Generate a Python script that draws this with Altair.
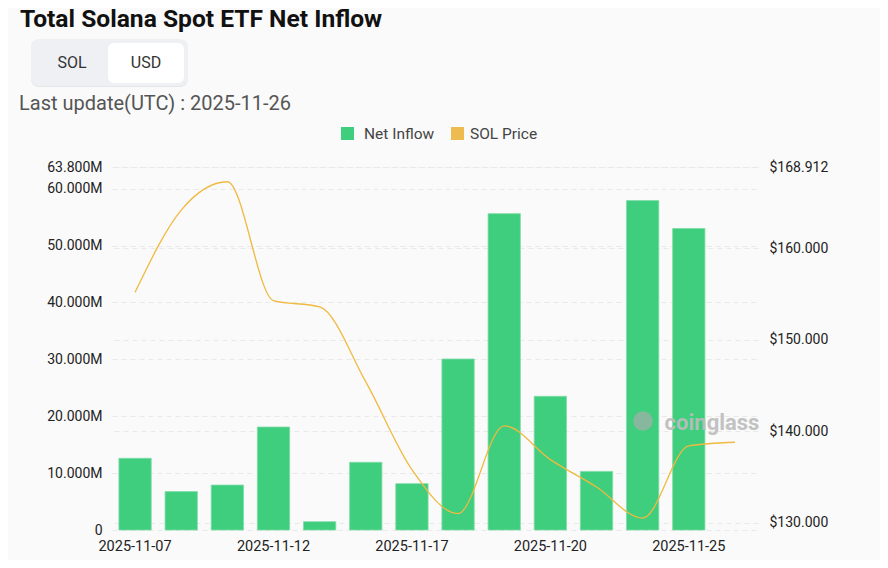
import altair as alt
import pandas as pd

dates = ["2025-11-07", "2025-11-10", "2025-11-11", "2025-11-12", "2025-11-13",
         "2025-11-14", "2025-11-17", "2025-11-18", "2025-11-19", "2025-11-20",
         "2025-11-21", "2025-11-24", "2025-11-25", "2025-11-26"]
net_inflow_m = [12.6, 6.75, 7.9, 18.1, 1.46, 11.9, 8.15, 30.05, 55.6, 23.5,
                10.3, 57.9, 53.0, None]
sol_price = [155.2, 164.2, 167.3, 154.3, 153.6, 145.4, 135.8, 131.0, 140.6,
             136.9, 133.9, 130.5, 138.4, 138.8]
x_label_dates = ["2025-11-07", "2025-11-12", "2025-11-17", "2025-11-20", "2025-11-25"]
left_ticks = [0, 10, 20, 30, 40, 50, 60, 63.8]
right_ticks = [130, 140, 150, 160, 168.912]

df = pd.DataFrame({"date": dates, "inflow": net_inflow_m, "price": sol_price})

FONT = "Roboto"
GREEN = "#3ECE7E"
GOLD = "#F0B940"
GRID = "#e9e9e9"

W, H = 646, 363

xscale = alt.Scale(domain=dates, paddingInner=0.3, paddingOuter=0.15)
xaxis = alt.Axis(values=x_label_dates, title=None, labelAngle=0, domain=False,
                 ticks=False, labelPadding=9, labelFontSize=14.5, labelColor="#222",
                 labelFont=FONT, grid=False)

bars = alt.Chart(df).transform_filter("isValid(datum.inflow)").mark_bar(
    color=GREEN, stroke="#7fdca7", strokeWidth=0.8
).encode(
    x=alt.X("date:O", scale=xscale, axis=xaxis, sort=dates),
    y=alt.Y("inflow:Q", scale=alt.Scale(domain=[0, 63.8], nice=False, zero=True),
            axis=alt.Axis(values=left_ticks, title=None, orient="left",
                          labelExpr="datum.value == 0 ? '0' : format(datum.value, '.3f') + 'M'",
                          domain=False, ticks=False, labelPadding=10, labelFontSize=14,
                          labelColor="#222", labelFont=FONT, grid=True, gridColor=GRID,
                          gridDash=[5, 4], gridWidth=1)),
)

line = alt.Chart(df).mark_line(color=GOLD, strokeWidth=1.3, interpolate="monotone").encode(
    x=alt.X("date:O", scale=xscale, sort=dates, axis=xaxis),
    y=alt.Y("price:Q", scale=alt.Scale(domain=[129.2, 168.912], nice=False, zero=False),
            axis=alt.Axis(values=right_ticks, title=None, orient="right",
                          labelExpr="'$' + format(datum.value, '.3f')",
                          domain=False, ticks=False, labelPadding=11, labelFontSize=14,
                          labelColor="#222", labelFont=FONT, grid=True, gridColor=GRID,
                          gridDash=[5, 4], gridWidth=1)),
)


def txt(s, x, y, size, color, weight="normal", align="left", baseline="middle", font=FONT, opacity=1.0):
    return alt.Chart(pd.DataFrame({"t": [s]})).mark_text(
        align=align, baseline=baseline, fontSize=size, fontWeight=weight,
        color=color, font=font, opacity=opacity
    ).encode(x=alt.value(x), y=alt.value(y), text="t:N")


def box(x1, x2, y1, y2, fill, radius=0, stroke=None, opacity=1.0):
    kw = dict(fill=fill, cornerRadius=radius, opacity=opacity)
    if stroke:
        kw["stroke"] = stroke
        kw["strokeWidth"] = 1
    return alt.Chart(pd.DataFrame({"a": [0]})).mark_rect(**kw).encode(
        x=alt.value(x1), x2=alt.value(x2), y=alt.value(y1), y2=alt.value(y2))


title = txt("Total Solana Spot ETF Net Inflow", -92, -140, 24.6, "#111", weight="bold",
            baseline="alphabetic")
btn_shadow = box(-81, 76, -127, -80, "#e4e6ea", radius=8)
btn_group = box(-81, 76, -128, -81, "#eef0f3", radius=8)
btn_usd = box(-4, 72, -124, -84, "#ffffff", radius=6)
sol_txt = txt("SOL", -40, -104, 16, "#333", align="center")
usd_txt = txt("USD", 34, -104, 16, "#333", align="center")
update_txt = txt("Last update(UTC) : 2025-11-26", -93, -63, 20, "#555")

leg1 = box(229, 242, -40, -27, GREEN)
leg1t = txt("Net Inflow", 252, -33.5, 15.5, "#444")
leg2 = box(339, 352, -40, -27, "#EDBB4F")
leg2t = txt("SOL Price", 358, -33.5, 15.5, "#444")

wm_logo = alt.Chart(pd.DataFrame({"a": [0]})).mark_point(
    shape="circle", filled=True, color="#8fb5a0", opacity=0.9, size=380
).encode(x=alt.value(531), y=alt.value(254))
wm_txt = txt("coinglass", 600, 256, 22, "#bdbdbd", weight="bold", align="center", opacity=0.9)

chart = alt.layer(
    bars, line
).resolve_scale(y="independent")

chart = alt.layer(
    chart, wm_logo, wm_txt, title, btn_shadow, btn_group, btn_usd, sol_txt, usd_txt,
    update_txt, leg1, leg1t, leg2, leg2t
).properties(
    width=W, height=H,
    autosize=alt.AutoSizeParams(type="none"),
    padding={"left": 104, "top": 159, "right": 122, "bottom": 30},
    background="#fafafa",
).configure_view(stroke=None)

chart.save("out.html", embed_options={"renderer": "svg", "actions": False})
